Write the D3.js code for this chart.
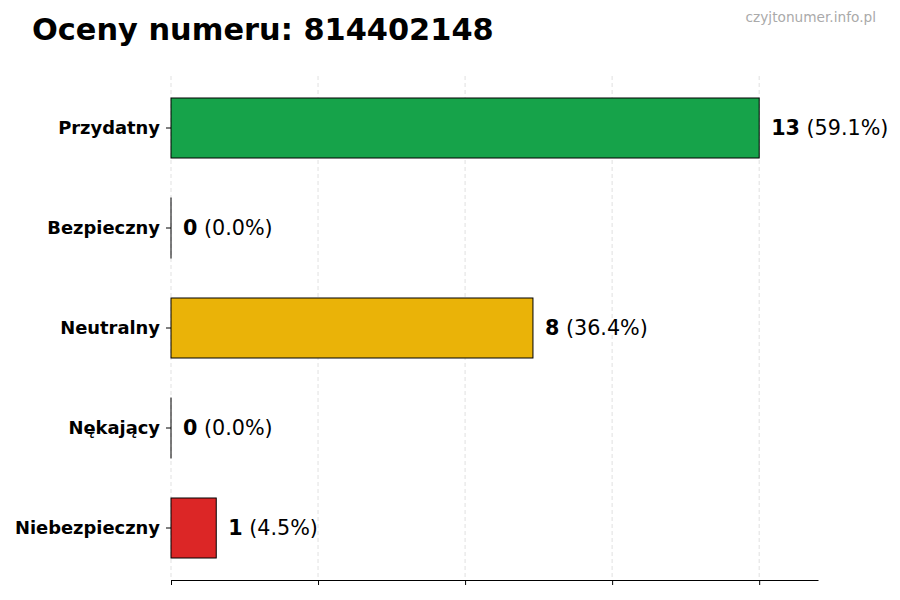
<!DOCTYPE html>
<html>
<head>
<meta charset="utf-8">
<script src="https://cdn.jsdelivr.net/npm/d3@7"></script>
<style>
  body { margin: 0; background: #fff; }
  text { font-family: "DejaVu Sans", sans-serif; }
</style>
</head>
<body>
<script>
'use strict';
let categories = ["Przydatny", "Bezpieczny", "Neutralny", "Nękający", "Niebezpieczny"];
let counts = [13, 0, 8, 0, 1];
let percents = ["59.1%", "0.0%", "36.4%", "0.0%", "4.5%"];
let colors = ["#16a34a", "#2563eb", "#eab308", "#f97316", "#dc2626"];
let xTicks = [0, 3.25, 6.5, 9.75, 13];

let svg = d3.select("body").append("svg")
	.attr("width", 900)
	.attr("height", 600);

let x = d3.scaleLinear().domain([0, 14.3]).range([171, 818]);
let y = d3.scaleBand().domain(categories).range([75, 581])
	.paddingInner(0.4).paddingOuter(0.23);

// grid
svg.selectAll("line.grid")
	.data(xTicks)
	.enter().append("line")
		.attr("class", "grid")
		.attr("x1", d => x(d)).attr("x2", d => x(d))
		.attr("y1", 76).attr("y2", 580)
		.attr("stroke", "#d9d9d9")
		.attr("stroke-width", 0.8)
		.attr("stroke-dasharray", "4,3");

// bars (zero values still get their thin edge, like the original)
svg.selectAll("rect.bar")
	.data(categories)
	.enter().append("rect")
		.attr("class", "bar")
		.attr("x", x(0))
		.attr("y", d => y(d))
		.attr("width", (d, i) => Math.max(x(counts[i]) - x(0), 0.01))
		.attr("height", y.bandwidth())
		.attr("fill", (d, i) => colors[i])
		.attr("stroke", "#000")
		.attr("stroke-width", 1);

// value labels
let lab = svg.selectAll("text.val")
	.data(categories)
	.enter().append("text")
		.attr("class", "val")
		.attr("x", (d, i) => x(counts[i]) + 12)
		.attr("y", d => y(d) + y.bandwidth() / 2)
		.attr("dy", "0.35em")
		.attr("font-size", 20.7);
lab.append("tspan").attr("font-weight", "bold").text((d, i) => counts[i]);
lab.append("tspan").text((d, i) => " (" + percents[i] + ")");

// x axis
let xAxis = svg.append("g")
	.attr("transform", "translate(0,580)")
	.call(d3.axisBottom(x).tickValues(xTicks).tickFormat("").tickSize(5).tickSizeOuter(0));
xAxis.select(".domain").attr("stroke", "#000");

// y axis (no spine)
let yAxis = svg.append("g")
	.attr("transform", "translate(171,0)")
	.call(d3.axisLeft(y).tickSize(5).tickPadding(6));
yAxis.select(".domain").remove();
yAxis.selectAll("text")
	.attr("font-family", "DejaVu Sans")
	.attr("font-size", 17.9)
	.attr("font-weight", "bold")
	.attr("fill", "#000");

// title
svg.append("text")
	.attr("x", 32).attr("y", 40)
	.attr("font-size", 30.4)
	.attr("font-weight", "bold")
	.text("Oceny numeru: 814402148");

svg.append("text")
	.attr("x", 876).attr("y", 22)
	.attr("text-anchor", "end")
	.attr("font-size", 13.7)
	.attr("fill", "#aaaaaa")
	.text("czyjtonumer.info.pl");
</script>
</body>
</html>
